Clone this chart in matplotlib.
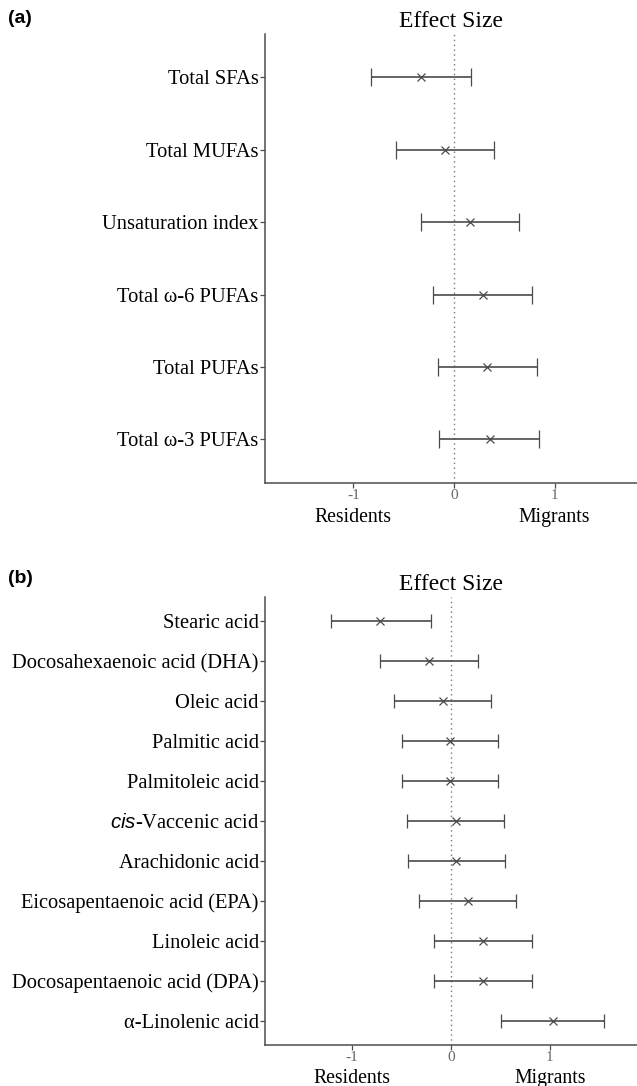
import numpy as np
import matplotlib
matplotlib.use("Agg")
import matplotlib.pyplot as plt
from matplotlib.transforms import blended_transform_factory

plt.rcParams["font.family"] = ["Liberation Serif", "DejaVu Serif"]
plt.rcParams["mathtext.fontset"] = "custom"
plt.rcParams["mathtext.it"] = "Liberation Sans:italic"
plt.rcParams["mathtext.rm"] = "Liberation Serif"

# panel (a): summary indices
labels_a = ["Total SFAs", "Total MUFAs", "Unsaturation index",
            "Total ω-6 PUFAs", "Total PUFAs", "Total ω-3 PUFAs"]
est_a = [-0.33, -0.09, 0.16, 0.29, 0.33, 0.355]
low_a = [-0.82, -0.58, -0.33, -0.205, -0.16, -0.145]
high_a = [0.165, 0.40, 0.645, 0.78, 0.825, 0.845]

# panel (b): individual fatty acids
labels_b = ["Stearic acid", "Docosahexaenoic acid (DHA)", "Oleic acid",
            "Palmitic acid", "Palmitoleic acid", r"$\mathit{cis}$-Vaccenic acid",
            "Arachidonic acid", "Eicosapentaenoic acid (EPA)", "Linoleic acid",
            "Docosapentaenoic acid (DPA)", "α-Linolenic acid"]
est_b = [-0.71, -0.22, -0.08, -0.005, -0.01, 0.05, 0.055, 0.175, 0.325, 0.325, 1.035]
low_b = [-1.21, -0.71, -0.57, -0.495, -0.495, -0.44, -0.435, -0.315, -0.17, -0.17, 0.51]
high_b = [-0.20, 0.275, 0.41, 0.48, 0.48, 0.54, 0.545, 0.66, 0.815, 0.815, 1.545]

xticks = [-1, 0, 1]
grey = "#4d4d4d"
H = 1086.0  # figure height in pixels


def forest(fig, ax, labels, est, low, high, xlim, capsize, group_base_px):
    n = len(labels)
    y = np.arange(n, 0, -1)
    est = np.array(est)
    err = [est - np.array(low), np.array(high) - est]
    ax.axvline(0, color="#777777", linestyle=(0, (1, 2.5)), linewidth=1.0, zorder=1)
    ax.errorbar(est, y, xerr=err, fmt="x", color="#4a4a4a", ecolor="#4a4a4a",
                elinewidth=1.2, capsize=capsize, capthick=1.2,
                markersize=6, markeredgewidth=0.9, zorder=2)
    ax.set_xlim(*xlim)
    ax.set_ylim(0.4, n + 0.6)
    ax.set_yticks(y)
    ax.set_yticklabels(labels, fontsize=14.8, color="black")
    ax.set_xticks(xticks)
    ax.set_xticklabels([str(t) for t in xticks], fontsize=11, color="#666666")
    ax.tick_params(axis="both", length=3.5, width=0.9, color=grey, pad=1)
    for side in ["top", "right"]:
        ax.spines[side].set_visible(False)
    for side in ["left", "bottom"]:
        ax.spines[side].set_color(grey)
        ax.spines[side].set_linewidth(1.1)
    ax.set_title("Effect Size", fontsize=17, pad=5)
    tr = blended_transform_factory(ax.transData, fig.transFigure)
    yb = 1 - group_base_px / H
    ax.text(-1, yb, "Residents", transform=tr, ha="center", va="baseline", fontsize=14.2)
    ax.text(1, yb, "Migrants", transform=tr, ha="center", va="baseline", fontsize=14.2)


fig = plt.figure(figsize=(6.37, 10.86), dpi=100)
ax_a = fig.add_axes([0.416, 0.5555, 0.584, 0.4132])
ax_b = fig.add_axes([0.416, 0.0378, 0.584, 0.4125])

forest(fig, ax_a, labels_a, est_a, low_a, high_a, (-1.878, 1.82), 6.5, 522)
forest(fig, ax_b, labels_b, est_b, low_b, high_b, (-1.872, 1.877), 4.7, 1083)

fig.text(0.012, 0.983, "(a)", fontsize=14, fontweight="bold",
         family="Liberation Sans", va="center")
fig.text(0.012, 0.467, "(b)", fontsize=14, fontweight="bold",
         family="Liberation Sans", va="center")

fig.savefig("out.png", dpi=100)
